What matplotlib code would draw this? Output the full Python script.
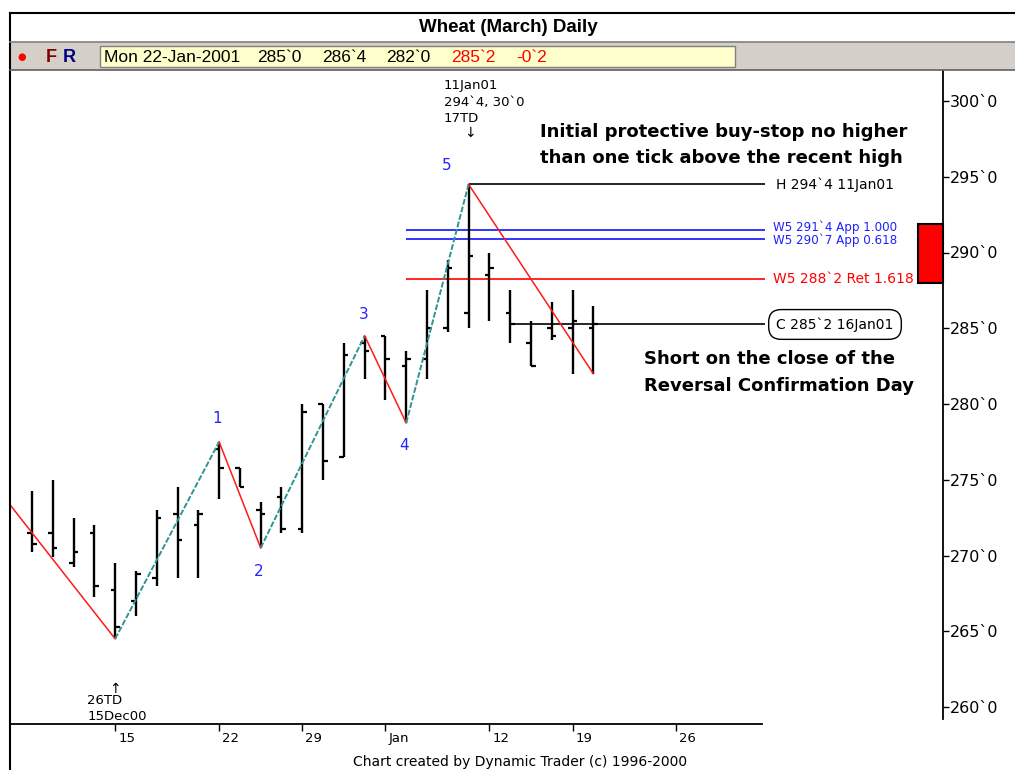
import matplotlib
matplotlib.use('Agg')
import matplotlib.pyplot as plt
from matplotlib import font_manager
from matplotlib.patches import Rectangle
from matplotlib.lines import Line2D
import matplotlib.transforms as mtransforms

# ---------------- data ----------------
bar_idx = list(range(28))
opens  = [271.5, 271.5, 269.5, 271.5, 267.75, 267.0, 268.5, 272.75, 272.0, 277.0,
          275.75, 273.0, 273.875, 271.75, 280.0, 276.5, 284.0, 284.5, 282.5, 283.0,
          285.0, 286.0, 288.5, 286.0, 284.0, 285.0, 285.0, 285.0]
highs  = [274.25, 275.0, 272.5, 272.0, 269.5, 269.0, 273.0, 274.5, 273.0, 277.5,
          275.75, 273.5, 274.5, 280.0, 280.0, 284.0, 284.5, 284.5, 283.5, 287.5,
          289.5, 294.5, 290.0, 287.5, 285.5, 286.75, 287.5, 286.5]
lows   = [270.25, 269.875, 269.25, 267.25, 264.5, 266.0, 268.0, 268.5, 268.5, 273.75,
          274.5, 270.5, 271.5, 271.5, 275.0, 276.5, 281.625, 280.25, 278.75, 281.625,
          284.75, 285.0, 285.5, 284.0, 282.5, 284.25, 282.0, 282.0]
closes = [270.75, 270.5, 270.25, 268.0, 265.25, 268.75, 272.5, 271.0, 272.75, 275.75,
          274.5, 272.75, 271.75, 279.5, 276.25, 283.25, 283.5, 283.0, 283.0, 285.0,
          289.0, 289.75, 289.0, 285.25, 282.5, 284.5, 285.5, 285.25]

pivot_idx   = [-22, 4, 9, 11, 16, 18, 21, 27]
pivot_price = [310.0, 264.5, 277.5, 270.5, 284.5, 278.75, 294.5, 282.0]
wave_labels = ['', '', '1', '2', '3', '4', '5', '']

tick_pos    = [4, 9, 13, 17, 22, 26, 31]
tick_labels = ['15', '22', '29', 'Jan', '12', '19', '26']
price_ticks = [260, 265, 270, 275, 280, 285, 290, 295, 300]

high_level   = 294.5
app_levels   = [291.5, 290.875]
app_texts    = ['W5 291`4 App 1.000', 'W5 290`7 App 0.618']
ret_level    = 288.25
ret_text     = 'W5 288`2 Ret 1.618'
close_level  = 285.25
close_start  = 23
zone_low, zone_high = 288.0, 291.875

header_parts = ['Mon 22-Jan-2001', '285`0', '286`4', '282`0', '285`2', '-0`2']
header_cols  = ['black', 'black', 'black', 'black', '#ff0000', '#ff0000']
header_x     = [104, 257, 322, 386, 451, 516]

# ---------------- fonts ----------------
names = {f.name for f in font_manager.fontManager.ttflist}
narrow = 'Liberation Sans Narrow' if 'Liberation Sans Narrow' in names else 'Liberation Sans'

W, H = 1015, 770
fig = plt.figure(figsize=(W / 100, H / 100), dpi=100)
fig.patch.set_facecolor('white')

def fx(x):
    return x / W

def fy(y):
    return 1 - y / H

# axes geometry (pixels)
AX_L, AX_R, AX_T, AX_B = 10, 943, 70, 724
ax = fig.add_axes([fx(AX_L), fy(AX_B), (AX_R - AX_L) / W, (AX_B - AX_T) / H])
ax.set_facecolor('white')

# bar spacing 20.79 px, bar0 at x=32 px
sp = 20.79
x_left = (AX_L - 32) / sp
x_right = (AX_R - 32) / sp
ax.set_xlim(x_left, x_right)
ppp = 15.15  # px per point
y_top = 300 + (101 - AX_T) / ppp
y_bot = 300 - (AX_B - 101) / ppp
ax.set_ylim(y_bot, y_top)

line_end = (765 - 32) / sp

# ---------------- OHLC bars ----------------
tw = 0.22
ax.vlines(bar_idx, lows, highs, color='black', lw=1.7, zorder=4)
ax.hlines(opens, [i - tw for i in bar_idx], bar_idx, color='black', lw=1.6, zorder=4)
ax.hlines(closes, bar_idx, [i + tw for i in bar_idx], color='black', lw=1.6, zorder=4)

# ---------------- zigzag ----------------
for k in range(len(pivot_idx) - 1):
    xs = [pivot_idx[k], pivot_idx[k + 1]]
    ys = [pivot_price[k], pivot_price[k + 1]]
    if ys[1] < ys[0]:
        ax.plot(xs, ys, color='#ff1a1a', lw=1.1, zorder=5)
    else:
        ax.plot(xs, ys, color='#2f9494', lw=1.4, ls=(0, (3, 1)), zorder=5)

wave_off = {'1': (-2, 23), '2': (-2, -24), '3': (-1, 21), '4': (-2, -23), '5': (-22, 19)}
for i, p, lab in zip(pivot_idx, pivot_price, wave_labels):
    if lab:
        dx, dy = wave_off[lab]
        ax.annotate(lab, xy=(i, p), xytext=(dx * 0.72, dy * 0.72), textcoords='offset points',
                    ha='center', va='center', color='#2424ff', fontsize=11, zorder=6)

# ---------------- horizontal levels ----------------
ax.hlines(high_level, pivot_idx[6], line_end, color='black', lw=1.2, zorder=3)
ax.annotate('H 294`4 11Jan01', xy=(line_end, high_level), xytext=(11 * 0.72, 0),
            textcoords='offset points', ha='left', va='center', fontsize=10, color='black')
for lvl, txt, dy in zip(app_levels, app_texts, [2.5, -1.5]):
    ax.hlines(lvl, pivot_idx[5], line_end, color='#1010ff', lw=1.2, zorder=3)
    ax.annotate(txt, xy=(line_end, lvl), xytext=(8 * 0.72, dy * 0.72),
                textcoords='offset points', ha='left', va='center', fontsize=8.6, color='#2020ff')
ax.hlines(ret_level, pivot_idx[5], line_end, color='#ff0000', lw=1.2, zorder=3)
ax.annotate(ret_text, xy=(line_end, ret_level), xytext=(8 * 0.72, 0),
            textcoords='offset points', ha='left', va='center', fontsize=10, color='#ff0000')
ax.hlines(close_level, close_start, line_end, color='black', lw=1.2, zorder=3)
ax.annotate('C 285`2 16Jan01', xy=(line_end, close_level), xytext=(70 * 0.72, 0),
            textcoords='offset points', ha='center', va='center', fontsize=10, color='black',
            bbox=dict(boxstyle='round,pad=0.55,rounding_size=0.9', fc='white', ec='black', lw=1.0))

# red zone box at the price axis
trans = mtransforms.blended_transform_factory(ax.transAxes, ax.transData)
ax.add_patch(Rectangle(((918 - AX_L) / (AX_R - AX_L), zone_low),
                       (AX_R - 918) / (AX_R - AX_L), zone_high - zone_low,
                       transform=trans, fc='#ff0000', ec='black', lw=1.5, zorder=6, clip_on=False))

# ---------------- pivot annotations ----------------
def ann(s, xy, dx, dy, **kw):
    ax.annotate(s, xy=xy, xytext=(dx * 0.72, dy * 0.72), textcoords='offset points', **kw)

p5 = (pivot_idx[6], pivot_price[6])
ann('11Jan01', p5, -25, 99, ha='left', va='center', fontsize=9.5)
ann('294`4, 30`0', p5, -25, 82, ha='left', va='center', fontsize=9.5)
ann('17TD', p5, -25, 66, ha='left', va='center', fontsize=9.5)
ann('\u2193', p5, 1, 51, ha='center', va='center', fontsize=10)
p0 = (pivot_idx[1], pivot_price[1])
ann('\u2191', p0, 0, -50, ha='center', va='center', fontsize=10)
ann('26TD', p0, -28, -62, ha='left', va='center', fontsize=9.5)
ann('15Dec00', p0, -28, -78, ha='left', va='center', fontsize=9.5)

# ---------------- axes styling ----------------
for s in ['top', 'left']:
    ax.spines[s].set_visible(False)
ax.spines['bottom'].set_bounds(x_left, (762 - 32) / sp)
ax.spines['bottom'].set_linewidth(1.3)
ax.spines['right'].set_linewidth(1.3)
ax.spines['right'].set_bounds(y_bot + 0.3, y_top)
ax.yaxis.tick_right()
ax.set_yticks(price_ticks)
ax.set_yticklabels([f'{v}`0' for v in price_ticks])
ax.tick_params(axis='y', direction='out', length=4, width=1, pad=1, labelsize=11.5)
ax.set_xticks(tick_pos)
ax.set_xticklabels(tick_labels)
ax.tick_params(axis='x', direction='out', length=5, width=1, pad=1, labelsize=9.5)
off = mtransforms.ScaledTranslation(3 / 100, 0, fig.dpi_scale_trans)
for lab in ax.get_xticklabels():
    lab.set_ha('left')
    lab.set_transform(lab.get_transform() + off)

# ---------------- header / frame ----------------
fig.add_artist(Rectangle((fx(10), fy(70)), fx(1015 - 10), (70 - 42) / H,
                         transform=fig.transFigure, fc='#d4d0c8', ec='none'))
fig.add_artist(Rectangle((fx(100), fy(67)), fx(735 - 100), (67 - 46) / H,
                         transform=fig.transFigure, fc='#ffffcc', ec='#808080', lw=1))
for (x0, y0, x1, y1, c, lw) in [(10, 13, 1015, 13, 'black', 1.5), (10, 13, 10, 770, 'black', 1.5),
                                (10, 42, 1015, 42, '#808080', 1.2), (10, 70, 1015, 70, '#606060', 1.2)]:
    fig.add_artist(Line2D([fx(x0), fx(x1)], [fy(y0), fy(y1)], transform=fig.transFigure,
                          color=c, lw=lw))

fig.text(fx(508), fy(28), 'Wheat (March) Daily', ha='center', va='center',
         fontsize=13.5, fontweight='bold', family=narrow)
fig.text(fx(22), fy(57), '\u25cf', ha='center', va='center', fontsize=7, color='#ff0000')
fig.text(fx(51), fy(57), 'F', ha='center', va='center', fontsize=13, fontweight='bold',
         color='#800000', family=narrow)
fig.text(fx(69), fy(57), 'R', ha='center', va='center', fontsize=13, fontweight='bold',
         color='#000080', family=narrow)
for s, c, x in zip(header_parts, header_cols, header_x):
    fig.text(fx(x), fy(57), s, ha='left', va='center', fontsize=12.5, color=c, family=narrow)

# ---------------- commentary ----------------
fig.text(fx(540), fy(132), 'Initial protective buy-stop no higher', ha='left', va='center',
         fontsize=13, fontweight='bold')
fig.text(fx(540), fy(158), 'than one tick above the recent high', ha='left', va='center',
         fontsize=13, fontweight='bold')
fig.text(fx(644), fy(359), 'Short on the close of the', ha='left', va='center',
         fontsize=13, fontweight='bold')
fig.text(fx(644), fy(386), 'Reversal Confirmation Day', ha='left', va='center',
         fontsize=13, fontweight='bold')
fig.text(fx(520), fy(762), 'Chart created by Dynamic Trader (c) 1996-2000', ha='center',
         va='center', fontsize=10)

fig.savefig('out.png', dpi=100)
